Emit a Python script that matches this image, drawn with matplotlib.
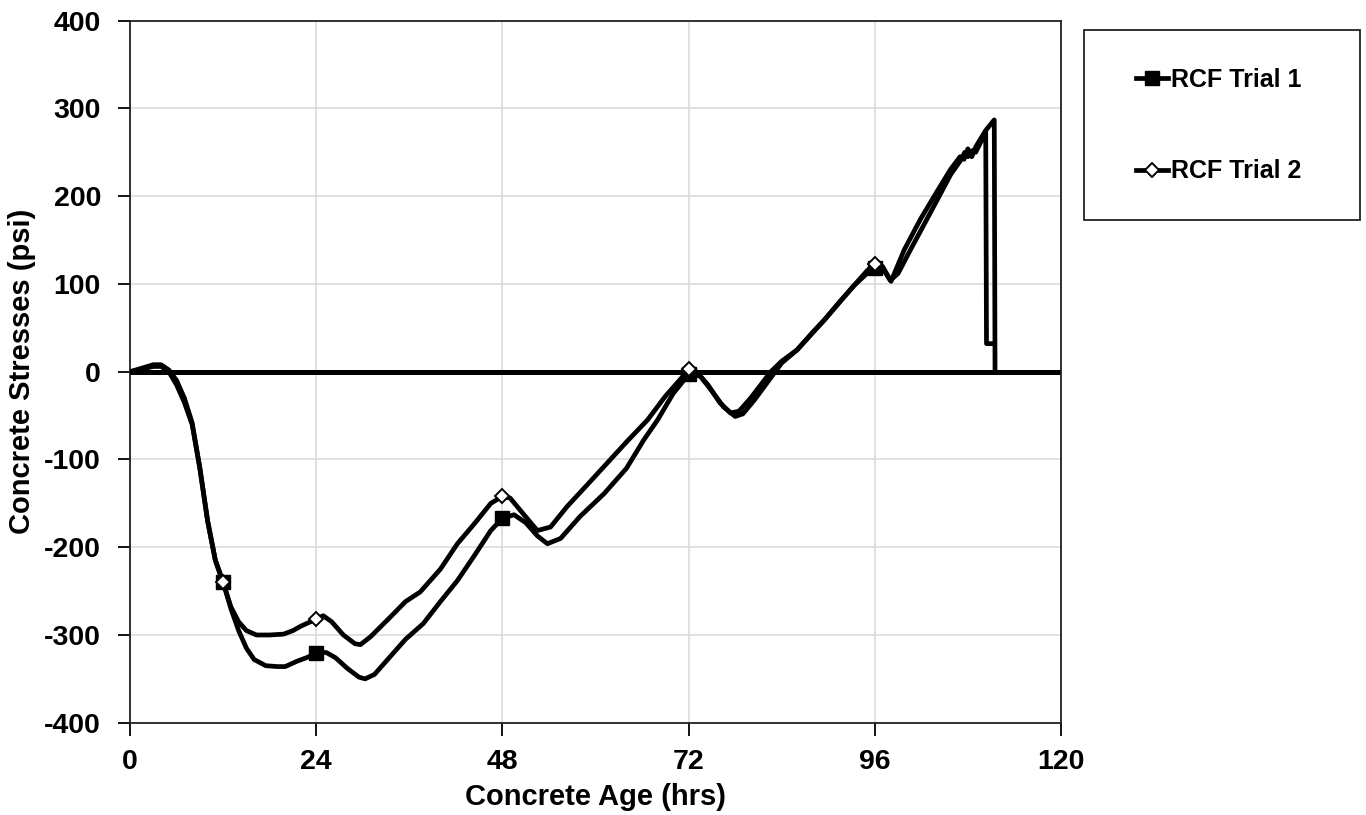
import matplotlib
matplotlib.use("Agg")
import matplotlib.pyplot as plt
from matplotlib.patches import Rectangle

plt.rcParams["font.family"] = ["Liberation Sans", "DejaVu Sans"]
plt.rcParams["font.weight"] = "bold"
plt.rcParams["axes.unicode_minus"] = False

# RCF Trial 1 (lower curve, filled squares)
hours_1 = [0, 1.5, 3, 4, 5, 6, 7, 8, 9, 10, 11, 12, 13, 14, 15, 16, 17.5, 19, 20,
           21.5, 23, 24, 25.3, 26.5, 28, 29.5, 30.3, 31.5, 33.5, 35.5, 37.8, 40,
           42.2, 44.5, 46.5, 48, 49.5, 51, 52.5, 53.8, 55.5, 58, 61.1, 64, 66.2,
           68, 70, 72, 73.5, 75, 76.5, 78, 79, 80.5, 82.5, 84, 86, 88, 89.5, 91.5,
           93.3, 95, 96, 97, 98, 99, 100.6, 102, 104, 105.8, 107, 107.6, 108,
           108.6, 109, 110.3, 110.4, 111.3]
stress_1 = [0, 3, 6, 6, 0, -15, -35, -60, -110, -170, -215, -240, -270, -295, -315,
            -328, -335, -336, -336, -330, -325, -320, -320, -326, -338, -348, -350,
            -345, -325, -305, -287, -262, -238, -208, -181, -167, -163, -172, -187,
            -196, -190, -165, -139, -110, -78, -55, -25, -3, -5, -22, -40, -51, -48,
            -32, -8, 10, 25, 45, 59, 80, 98, 112, 118, 118, 104, 112, 139, 162, 195,
            225, 240, 250, 245, 252, 250, 273, 32, 32]

# RCF Trial 2 (upper curve, open diamonds)
hours_2 = [0, 1.5, 3, 4, 5, 6, 7, 8, 9, 10, 11, 12, 13, 14, 15, 16.3, 18, 19.8, 21,
           22, 23, 24, 24.9, 26, 27.5, 29, 29.7, 31, 33.5, 35.5, 37.4, 40, 42.2,
           44.5, 46.5, 48, 49, 50.5, 52.5, 54.2, 56.3, 58.5, 61.1, 64, 66.7, 69, 71,
           72, 73, 74.5, 76, 77.4, 78.5, 80, 82.6, 84, 86, 89.5, 93.3, 95, 96, 97,
           98.1, 99.8, 101.9, 104, 105.8, 107, 107.5, 108, 108.5, 109, 110.3, 111.4,
           111.5]
stress_2 = [0, 4, 8, 8, 2, -10, -30, -58, -110, -170, -215, -240, -268, -285, -295,
            -300, -300, -299, -295, -290, -286, -282, -278, -285, -300, -310, -311,
            -302, -280, -262, -251, -225, -196, -172, -150, -142, -144, -160, -181,
            -177, -154, -133, -108, -80, -55, -28, -8, 3, 0, -15, -35, -47, -45, -30,
            0, 12, 25, 59, 98, 115, 123, 120, 103, 139, 174, 205, 231, 245, 242, 254,
            245, 256, 275, 287, 0]

marker_hours = [12, 24, 48, 72, 96]
x_ticks = [0, 24, 48, 72, 96, 120]
y_ticks = [-400, -300, -200, -100, 0, 100, 200, 300, 400]

fig = plt.figure(figsize=(13.66, 8.15), dpi=100)
ax = fig.add_axes([0.0952, 0.1132, 0.6815, 0.8614])

ax.axhline(0, color="black", lw=3.6, zorder=2)

every_1 = [i for i, h in enumerate(hours_1) if h in marker_hours]
every_2 = [i for i, h in enumerate(hours_2) if h in marker_hours]

ax.plot(hours_1, stress_1, color="black", lw=3.4, marker="s", markersize=10,
        markerfacecolor="black", markeredgecolor="black", markevery=every_1,
        label="RCF Trial 1", zorder=3)
ax.plot(hours_2, stress_2, color="black", lw=3.4, marker="D", markersize=7,
        markerfacecolor="white", markeredgecolor="black", markeredgewidth=1.4,
        markevery=every_2, label="RCF Trial 2", zorder=4)

ax.set_xlim(0, 120)
ax.set_ylim(-400, 400)
ax.set_xticks(x_ticks)
ax.set_yticks(y_ticks)
ax.grid(True, color="#d9d9d9", lw=1.1, zorder=0)
ax.set_axisbelow(True)
ax.tick_params(direction="out", length=9, width=1.3, labelsize=20.5, color="black")
ax.tick_params(axis="y", pad=12)
ax.tick_params(axis="x", pad=10)
for s in ax.spines.values():
    s.set_linewidth(1.3)
    s.set_color("#222222")

ax.set_xlabel("Concrete Age (hrs)", fontsize=21, fontweight="bold", labelpad=6)
ax.set_ylabel("Concrete Stresses (psi)", fontsize=21, fontweight="bold", labelpad=6)

# legend box sits outside the plot on the right
fig.patches.append(Rectangle((0.7936, 0.730), 0.202, 0.233, transform=fig.transFigure,
                             fill=False, edgecolor="#222222", lw=1.3))
fig.legend(loc="center", bbox_to_anchor=(0.892, 0.846), frameon=False, fontsize=18,
           handlelength=1.3, handletextpad=0.1, labelspacing=2.7)

fig.savefig("out.png", dpi=100)
